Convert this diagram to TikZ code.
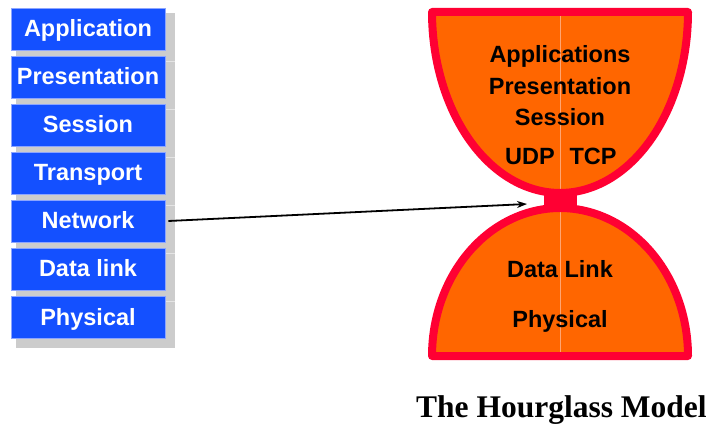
\documentclass[tikz,border=0pt]{standalone}
\usepackage{fontspec}
\setmainfont{Liberation Sans}
\newfontfamily\titlefont{Liberation Serif}
\usetikzlibrary{arrows.meta}
\definecolor{layerblue}{RGB}{20,80,255}
\definecolor{layeredge}{RGB}{140,165,255}
\definecolor{shadowgray}{RGB}{204,204,204}
\definecolor{shadowline}{RGB}{228,228,228}
\definecolor{glassfill}{RGB}{255,102,0}
\definecolor{glassrim}{RGB}{255,0,51}
\definecolor{seam}{RGB}{255,165,115}
\begin{document}
\begin{tikzpicture}[x=1pt,y=-1pt,
  layer/.style={draw=layeredge, line width=0.8pt, fill=layerblue,
    minimum width=154pt, minimum height=42pt, inner sep=0pt,
    text height=17pt, text depth=1pt, text=white,
    font=\bfseries\fontsize{23.5}{28}\selectfont},
  glasstext/.style={anchor=base, inner sep=0pt, text=black,
    font=\bfseries\fontsize{23.5}{28}\selectfont},
  rim/.style={draw=glassrim, line width=8pt, line join=round, line cap=round},
  pointer/.style={draw=black, line width=1.8pt, -{Stealth[length=10pt,width=7pt]}}]
\useasboundingbox (0,0) rectangle (714,427);

% shadow behind the layer stack
\fill[shadowgray] (16,13) rectangle (175,348);
\foreach \k in {0,...,5}
  \draw[shadowline, line width=0.8pt] (165,61+48*\k) -- (175,61+48*\k);

% OSI layer stack
\node[layer] (app)  at (88,29)  {Application};
\node[layer] (pres) at (88,77)  {Presentation};
\node[layer] (sess) at (88,125) {Session};
\node[layer] (trans) at (88,173) {Transport};
\node[layer] (net)  at (88,221) {Network};
\node[layer] (dlink) at (88,269) {Data link};
\node[layer] (phys) at (88,317) {Physical};

% hourglass: upper and lower bowls
\fill[glassfill] plot[domain=0:180, samples=91, variable=\t]
  ({560+128*cos(\t)},{12+181*sin(\t)}) -- cycle;
\fill[glassfill] plot[domain=180:360, samples=91, variable=\t]
  ({560+128*cos(\t)},{356+148*sin(\t)}) -- cycle;
\draw[seam, line width=0.8pt] (560,16) -- (560,190);
\draw[seam, line width=0.8pt] (560,210) -- (560,352);
\draw[rim] plot[domain=0:180, samples=91, variable=\t]
  ({560+128*cos(\t)},{12+181*sin(\t)}) -- cycle;
\draw[rim] plot[domain=180:360, samples=91, variable=\t]
  ({560+128*cos(\t)},{356+148*sin(\t)}) -- cycle;
\fill[glassrim] (544,190) rectangle (577,210);

% protocol labels
\node[glasstext] (gapp)  at (560,63)  {Applications};
\node[glasstext] (gpres) at (560,95)  {Presentation};
\node[glasstext] (gsess) at (560,126) {Session};
\node[glasstext] (gudp)  at (530,165) {UDP};
\node[glasstext] (gtcp)  at (593,165) {TCP};
\node[glasstext] (gdl)   at (560,278) {Data Link};
\node[glasstext] (gphy)  at (560,327) {Physical};

% the network layer is the waist
\coordinate (waist) at (527,204);
\draw[pointer] ([xshift=3pt]net.east) -- (waist);

\node[anchor=base west, inner sep=0pt,
  font=\titlefont\bfseries\fontsize{31.5}{36}\selectfont] (title) at (416,417) {The Hourglass Model};
\end{tikzpicture}
\end{document}
